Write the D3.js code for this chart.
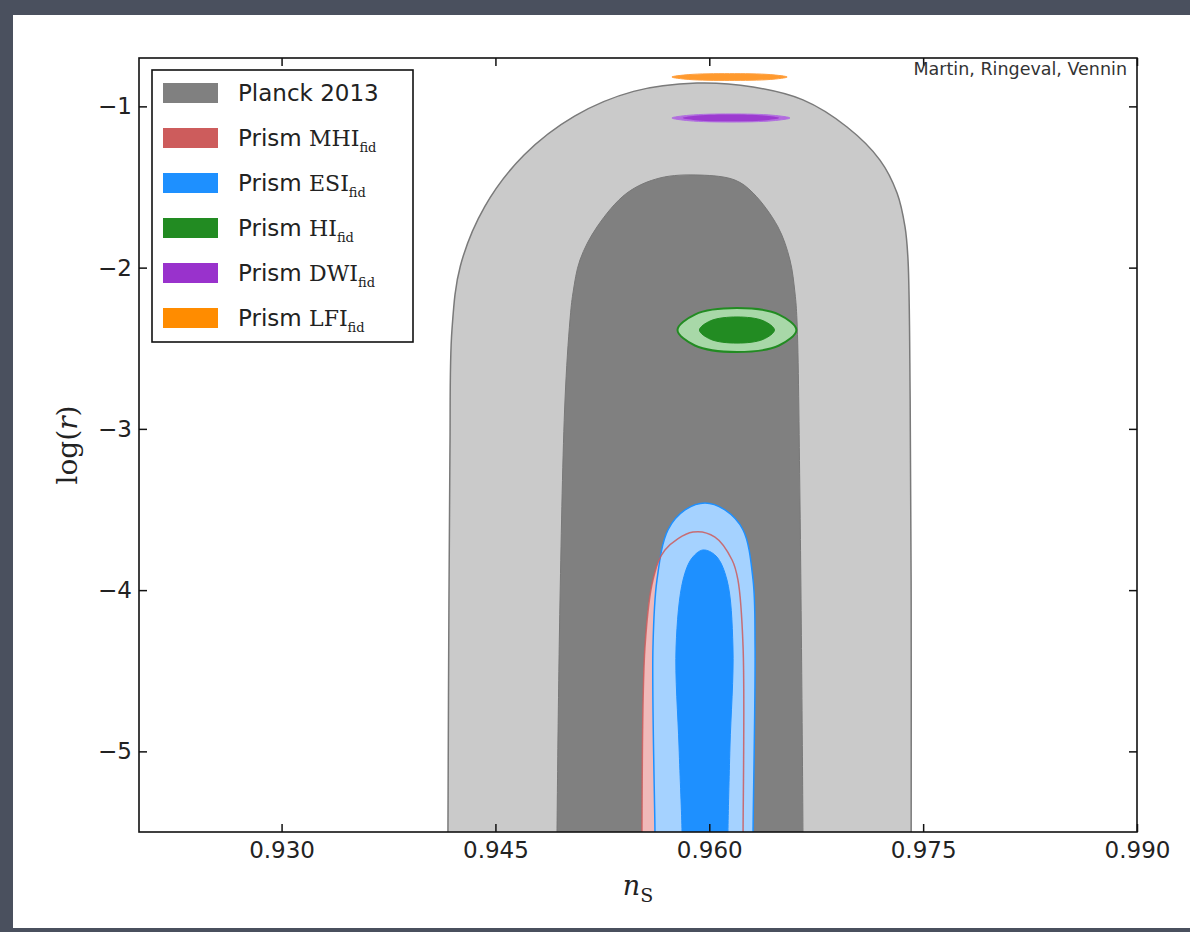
<!DOCTYPE html>
<html>
<head>
<meta charset="utf-8">
<script src="https://cdn.jsdelivr.net/npm/d3@7"></script>
<style>
  body { margin: 0; background: #4a505e; }
  svg { display: block; }
</style>
</head>
<body>
<div id="chart"></div>
<script>
// axis ticks
const nsTicks = [0.930, 0.945, 0.960, 0.975, 0.990];
const logrTicks = [-1, -2, -3, -4, -5];

// Planck 2013 contours (ns, log r), open at the bottom
const planck2sigma = [
  [0.94167, -5.6], [0.94167, -5.5], [0.94174, -4.061], [0.94181, -3.131], [0.94195, -2.387],
  [0.94254, -1.990], [0.94425, -1.621], [0.94699, -1.303], [0.95055, -1.060], [0.95469, -0.907],
  [0.95914, -0.855], [0.96307, -0.880], [0.96657, -0.960],
  [0.96966, -1.128], [0.97197, -1.333], [0.97317, -1.537], [0.97373, -1.748], [0.97394, -1.953],
  [0.97409, -2.821], [0.97416, -4.061], [0.97416, -5.5], [0.97416, -5.6]
];
const planck1sigma = [
  [0.94932, -5.6], [0.94932, -5.5], [0.94953, -4.061], [0.94988, -2.821], [0.95023, -2.325],
  [0.95044, -2.157], [0.95093, -1.953], [0.95212, -1.748], [0.95423, -1.537], [0.95654, -1.444],
  [0.95935, -1.426], [0.96180, -1.457], [0.96307, -1.537], [0.96482, -1.748], [0.96566, -1.953],
  [0.96601, -2.157], [0.96615, -2.325], [0.96636, -3.441], [0.96657, -5.5], [0.96657, -5.6]
];

// Prism MHI (outer contour)
const mhi2sigma = [
  [0.95528, -5.6], [0.95528, -5.5], [0.95549, -4.353], [0.95605, -3.937], [0.95689, -3.751],
  [0.95886, -3.640], [0.96040, -3.671], [0.96160, -3.813], [0.96201, -3.937], [0.96237, -4.353],
  [0.96237, -5.5], [0.96237, -5.6]
];

// Prism ESI
const esi2sigma = [
  [0.95619, -5.6], [0.95619, -5.5], [0.95605, -4.353], [0.95633, -3.937], [0.95710, -3.627],
  [0.95830, -3.503], [0.95970, -3.460], [0.96110, -3.503], [0.96237, -3.627], [0.96307, -3.937],
  [0.96321, -4.353], [0.96307, -5.5], [0.96307, -5.6]
];
const esi1sigma = [
  [0.95809, -5.6], [0.95809, -5.5], [0.95788, -4.973], [0.95767, -4.353], [0.95816, -3.937],
  [0.95879, -3.801], [0.95956, -3.751], [0.96047, -3.788], [0.96124, -3.937], [0.96166, -4.353],
  [0.96145, -4.973], [0.96131, -5.5], [0.96131, -5.6]
];

// Prism HI
const hi2sigma = [
  [0.96611, -2.387], [0.96489, -2.291], [0.96194, -2.251], [0.95899, -2.291],
  [0.95777, -2.387], [0.95899, -2.483], [0.96194, -2.523], [0.96489, -2.483]
];
const hi1sigma = [
  [0.96457, -2.387], [0.96380, -2.330], [0.96194, -2.306], [0.96008, -2.330],
  [0.95931, -2.387], [0.96008, -2.444], [0.96194, -2.468], [0.96380, -2.444]
];

// Prism DWI
const dwi2sigma = [
  [0.96566, -1.072], [0.96445, -1.055], [0.96152, -1.047], [0.95859, -1.055],
  [0.95738, -1.072], [0.95859, -1.089], [0.96152, -1.097], [0.96445, -1.089]
];
const dwi1sigma = [
  [0.96490, -1.072], [0.96380, -1.057], [0.96152, -1.051], [0.95924, -1.057],
  [0.95814, -1.072], [0.95924, -1.087], [0.96152, -1.093], [0.96380, -1.087]
];

// Prism LFI
const lfi2sigma = [
  [0.96546, -0.818], [0.96428, -0.803], [0.96142, -0.797], [0.95856, -0.803],
  [0.95738, -0.818], [0.95856, -0.833], [0.96142, -0.839], [0.96428, -0.833]
];

// legend
const legendNames = ["Planck 2013", "MHI", "ESI", "HI", "DWI", "LFI"];
const legendColors = ["#808080", "#cd5c5c", "#1e90ff", "#228b22", "#9932cc", "#ff8c00"];

const width = 1190;
const height = 932;
const margin = { top: 58, bottom: 100, left: 139, right: 53 };
const plotW = width - margin.left - margin.right;
const plotH = height - margin.top - margin.bottom;

const svgRoot = d3.select("#chart").append("svg")
    .attr("width", width)
    .attr("height", height);

// white figure panel over the dark background
svgRoot.append("rect")
    .attr("x", 13).attr("y", 15)
    .attr("width", width - 13).attr("height", 913)
    .attr("fill", "#ffffff");

const svg = svgRoot.append("g")
    .attr("transform", "translate(" + margin.left + "," + margin.top + ")");

const x = d3.scaleLinear().domain([0.92, 0.99]).range([0, plotW]);
const y = d3.scaleLinear().domain([-5.5, -0.7]).range([plotH, 0]);

svg.append("clipPath").attr("id", "plotclip")
    .append("rect").attr("width", plotW).attr("height", plotH);

const plot = svg.append("g").attr("clip-path", "url(#plotclip)");

const openLine = d3.line()
    .x(function(d) { return x(d[0]); })
    .y(function(d) { return y(d[1]); })
    .curve(d3.curveCatmullRom.alpha(0.5));

const closedLine = d3.line()
    .x(function(d) { return x(d[0]); })
    .y(function(d) { return y(d[1]); })
    .curve(d3.curveCatmullRomClosed.alpha(0.5));

function openShape(pts) { return openLine(pts) + "Z"; }

// Planck
plot.append("path").attr("d", openShape(planck2sigma))
    .attr("fill", "#cacaca").attr("stroke", "#7a7a7a").attr("stroke-width", 1.5);
plot.append("path").attr("d", openShape(planck1sigma))
    .attr("fill", "#808080").attr("stroke", "#787878").attr("stroke-width", 1);

// MHI fill under ESI
plot.append("path").attr("d", openShape(mhi2sigma))
    .attr("fill", "#f0b9b9").attr("stroke", "none");

// ESI
plot.append("path").attr("d", openShape(esi2sigma))
    .attr("fill", "#a5d2ff").attr("stroke", "#1e90ff").attr("stroke-width", 1.5);
plot.append("path").attr("d", openShape(esi1sigma))
    .attr("fill", "#1e90ff").attr("stroke", "#1e90ff").attr("stroke-width", 1);

// MHI outline on top
plot.append("path").attr("d", openShape(mhi2sigma))
    .attr("fill", "none").attr("stroke", "#cd5c5c").attr("stroke-width", 1.5)
    .attr("stroke-opacity", 0.85);

// HI
plot.append("path").attr("d", closedLine(hi2sigma))
    .attr("fill", "#a8d8a8").attr("stroke", "#228b22").attr("stroke-width", 2);
plot.append("path").attr("d", closedLine(hi1sigma))
    .attr("fill", "#228b22").attr("stroke", "#228b22").attr("stroke-width", 1);

// DWI
plot.append("path").attr("d", closedLine(dwi2sigma))
    .attr("fill", "#b46ade").attr("stroke", "#b070e0").attr("stroke-width", 1);
plot.append("path").attr("d", closedLine(dwi1sigma))
    .attr("fill", "#9c3bd0");

// LFI
plot.append("path").attr("d", closedLine(lfi2sigma))
    .attr("fill", "#ff9a2e").attr("stroke", "#ffa040").attr("stroke-width", 1);

// axes, ticks pointing inwards on all four sides
const tickFont = "'DejaVu Sans', sans-serif";

svg.append("g")
    .attr("transform", "translate(0," + plotH + ")")
    .call(d3.axisBottom(x).tickValues(nsTicks).tickFormat(d3.format(".3f"))
        .tickSize(-8).tickPadding(10));
svg.append("g")
    .call(d3.axisTop(x).tickValues(nsTicks).tickFormat("").tickSize(-8));
svg.append("g")
    .call(d3.axisLeft(y).tickValues(logrTicks).tickFormat(d3.format("d"))
        .tickSize(-8).tickPadding(7));
svg.append("g")
    .attr("transform", "translate(" + plotW + ",0)")
    .call(d3.axisRight(y).tickValues(logrTicks).tickFormat("").tickSize(-8));

svg.selectAll(".domain").remove();
svg.selectAll(".tick line").attr("stroke", "#111").attr("stroke-width", 1.5);
svg.selectAll(".tick text")
    .style("font-family", tickFont)
    .style("font-size", "23px")
    .attr("fill", "#222");

// frame
svg.append("rect")
    .attr("width", plotW).attr("height", plotH)
    .attr("fill", "none").attr("stroke", "#111").attr("stroke-width", 1.6);

// attribution
svg.append("text")
    .attr("x", plotW - 10).attr("y", 17)
    .attr("text-anchor", "end")
    .style("font-family", tickFont)
    .style("font-size", "17.5px")
    .attr("fill", "#333")
    .text("Martin, Ringeval, Vennin");

// x label n_S
const xl = svg.append("text")
    .attr("x", plotW / 2).attr("y", plotH + 63)
    .attr("text-anchor", "middle")
    .style("font-family", "'DejaVu Serif', serif")
    .attr("fill", "#222");
xl.append("tspan").style("font-style", "italic").style("font-size", "27px").text("n");
xl.append("tspan").attr("dy", 7).style("font-size", "19px").text("S");

// y label log(r)
const yl = svg.append("text")
    .attr("transform", "rotate(-90)")
    .attr("x", -plotH / 2).attr("y", -62)
    .attr("text-anchor", "middle")
    .style("font-family", "'DejaVu Serif', serif")
    .style("font-size", "28px")
    .attr("fill", "#222");
yl.append("tspan").text("log(");
yl.append("tspan").style("font-style", "italic").text("r");
yl.append("tspan").text(")");

// legend
const legend = svg.append("g").attr("transform", "translate(13,12)");
legend.append("rect")
    .attr("width", 261).attr("height", 272)
    .attr("fill", "#ffffff").attr("stroke", "#111").attr("stroke-width", 1.6);

const rows = legend.selectAll(".legend")
    .data(legendNames)
    .enter().append("g")
    .attr("class", "legend")
    .attr("transform", function(d, i) { return "translate(0," + (23 + i * 45) + ")"; });

rows.append("rect")
    .attr("x", 11).attr("y", -10)
    .attr("width", 55).attr("height", 20)
    .attr("fill", function(d, i) { return legendColors[i]; });

rows.each(function(d, i) {
  const t = d3.select(this).append("text")
      .attr("x", 86).attr("y", 8)
      .style("font-family", tickFont)
      .style("font-size", "23px")
      .attr("fill", "#222");
  if (i === 0) {
    t.text(d);
  } else {
    t.append("tspan").text("Prism ");
    t.append("tspan").style("font-family", "'DejaVu Serif', serif").style("font-size", "22px").text(d);
    t.append("tspan").attr("dy", 6)
        .style("font-family", "'DejaVu Serif', serif").style("font-size", "13px").text("fid");
  }
});
</script>
</body>
</html>
